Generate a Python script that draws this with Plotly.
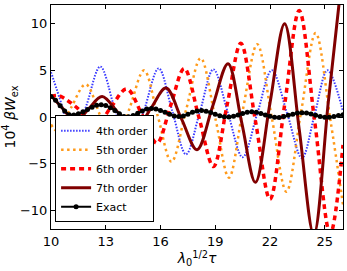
import plotly.graph_objects as go

# ---- data ----
x4 = [10.0, 10.6, 11.2, 11.95, 12.7, 13.5, 14.3, 15.1, 15.9, 16.65, 17.4, 18.15, 18.9,
      19.7, 20.5, 21.3, 22.1, 22.95, 23.75, 24.45, 25.15, 26.0]
y4 = [4.8, 1.2, -2.9, 1.3, 5.4, 0.8, -3.8, 0.7, 5.2, 0.6, -4.0, 0.5, 5.1,
      0.4, -4.3, 0.35, 5.0, 0.3, -4.4, 0.3, 5.0, 0.6]

x5 = [10.0, 10.35, 11.1, 11.9, 12.7, 13.5, 14.3, 15.1, 15.85, 16.6, 17.4, 18.2, 19.0,
      19.75, 20.5, 21.3, 22.1, 22.9, 23.7, 24.5, 25.3, 26.0]
y5 = [-0.8, -1.5, 1.0, 3.5, 0.15, -3.2, 0.9, 5.0, 0.1, -4.8, 0.75, 6.3, -0.1,
      -6.5, 0.65, 7.8, -0.1, -8.0, 0.5, 9.0, -0.2, -9.4]

x6 = [10.0, 10.4, 10.8, 11.5, 12.0, 12.5, 13.3, 14.15, 15.0, 15.8, 16.55, 17.3, 18.1,
      18.9, 19.65, 20.4, 21.2, 22.0, 22.8, 23.6, 24.45, 25.3, 26.0]
y6 = [2.2, 2.3, 1.9, 0.85, -0.3, -0.9, 1.1, 3.0, 0.2, -2.8, 1.2, 5.2, 0.0,
      -5.3, 1.3, 7.9, -0.4, -8.8, 1.3, 11.4, -0.5, -12.5, -3.0]

x7 = [10.0, 10.65, 11.35, 12.05, 12.8, 13.7, 14.6, 15.45, 16.3, 17.15, 18.0, 18.85,
      19.7, 20.45, 21.2, 22.0, 22.8, 23.6, 24.4, 25.2, 26.0]
y7 = [2.3, 0.9, -0.5, 0.85, 2.2, 0.4, -1.4, 0.85, 3.1, -0.2, -3.5, 1.1,
      5.7, -0.6, -7.0, 1.5, 10.0, -1.3, -12.6, 1.7, 16.0]

x_exact = [10.0, 10.25, 10.5, 10.75, 11.0, 11.25, 11.5, 11.75, 12.0, 12.25, 12.5, 12.75,
           13.0, 13.25, 13.5, 13.75, 14.0, 14.25, 14.5, 14.75, 15.0, 15.25, 15.5, 15.75,
           16.0, 16.25, 16.5, 16.75, 17.0, 17.25, 17.5, 17.75, 18.0, 18.25, 18.5, 18.75,
           19.0, 19.25, 19.5, 19.75, 20.0, 20.25, 20.5, 20.75, 21.0, 21.25, 21.5, 21.75,
           22.0, 22.25, 22.5, 22.75, 23.0, 23.25, 23.5, 23.75, 24.0, 24.25, 24.5, 24.75,
           25.0, 25.25, 25.5, 25.75, 26.0]
y_exact = [2.2, 1.8, 1.2, 0.65, 0.25, 0.22, 0.35, 0.55, 0.8, 1.05, 1.25, 1.3,
           1.22, 1.0, 0.7, 0.35, 0.05, 0.02, 0.15, 0.4, 0.65, 0.85, 0.9, 0.85,
           0.7, 0.5, 0.3, 0.1, 0.05, 0.12, 0.3, 0.5, 0.65, 0.7, 0.62, 0.48,
           0.3, 0.14, 0.03, 0.0, 0.08, 0.22, 0.38, 0.5, 0.55, 0.5, 0.38, 0.22,
           0.07, -0.03, -0.05, 0.05, 0.18, 0.3, 0.42, 0.45, 0.42, 0.33, 0.2, 0.05,
           -0.03, -0.04, 0.05, 0.15, 0.25]

x_ticks = [10, 13, 16, 19, 22, 25]
y_ticks = [-10, -5, 0, 5, 10]

FONT = "DejaVu Sans"

fig = go.Figure()
fig.add_trace(go.Scatter(x=x4, y=y4, mode="lines", name="4th order",
                         line=dict(color="#3a3aff", width=2, dash="1.5px,1.5px", shape="spline")))
fig.add_trace(go.Scatter(x=x5, y=y5, mode="lines", name="5th order",
                         line=dict(color="#ff9a1a", width=2.5, dash="2.5px,3.5px", shape="spline")))
fig.add_trace(go.Scatter(x=x6, y=y6, mode="lines", name="6th order",
                         line=dict(color="#ff0000", width=3.5, dash="5px,4px", shape="spline")))
fig.add_trace(go.Scatter(x=x7, y=y7, mode="lines", name="7th order",
                         line=dict(color="#800000", width=3, shape="spline")))
fig.add_trace(go.Scatter(x=x_exact, y=y_exact, mode="lines+markers", name="Exact",
                         line=dict(color="black", width=2, shape="spline"),
                         marker=dict(color="black", size=5, symbol="circle")))

axis_common = dict(showline=True, linecolor="black", linewidth=1, mirror="ticks",
                   ticks="inside", ticklen=4, tickcolor="black", showgrid=False,
                   zeroline=False, tickfont=dict(family=FONT, size=13, color="black"))

fig.update_layout(
    width=347, height=271,
    margin=dict(l=51, r=4, t=5, b=42),
    paper_bgcolor="white", plot_bgcolor="white",
    font=dict(family=FONT, color="black"),
    showlegend=True,
    legend=dict(x=0.014, y=0.03, xanchor="left", yanchor="bottom",
                bgcolor="white", bordercolor="black", borderwidth=1,
                font=dict(family=FONT, size=11, color="black"),
                itemwidth=30, tracegroupgap=0),
    xaxis=dict(range=[10, 26], tickvals=x_ticks, ticktext=[str(v) for v in x_ticks],
               title=dict(text="<i>λ</i><sub>0</sub><sup>1/2</sup><i>τ</i>",
                          font=dict(family=FONT, size=14), standoff=4),
               **axis_common),
    yaxis=dict(range=[-12, 12], tickvals=y_ticks,
               title=dict(text="10<sup>4</sup> <i>βW</i><sub>ex</sub>",
                          font=dict(family=FONT, size=14), standoff=6),
               **axis_common),
)

fig.write_html("out.html",
               config={"displayModeBar": False},
               post_script="document.body.style.margin='0';document.body.style.overflow='hidden';")
